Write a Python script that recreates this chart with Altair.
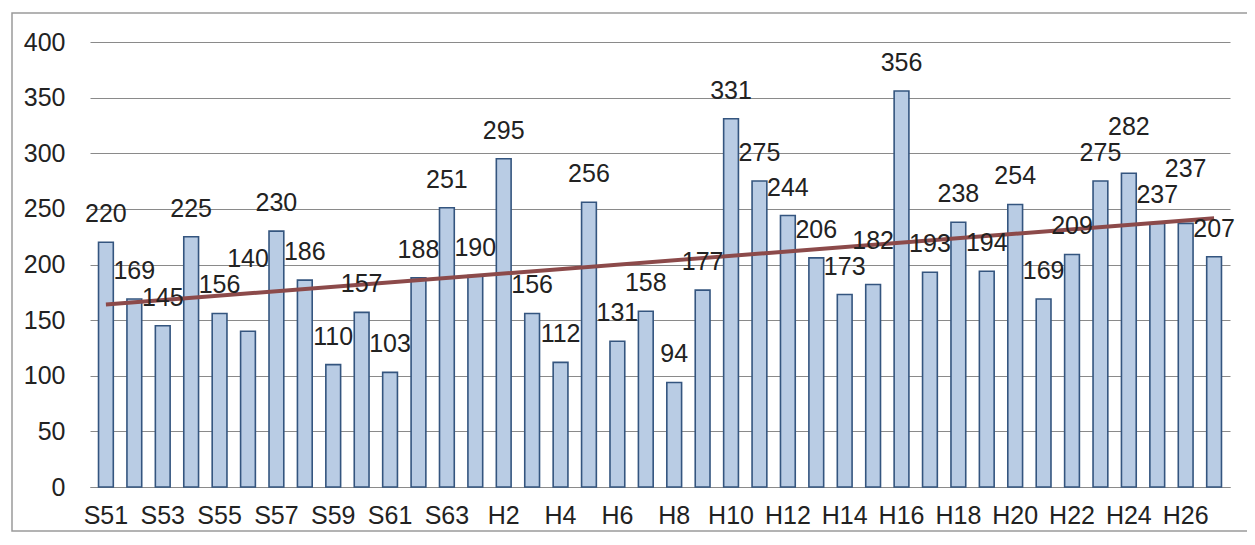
import altair as alt
import pandas as pd
import numpy as np

categories = (["S%d" % y for y in range(51, 64)] + ["H%d" % y for y in range(1, 28)])
values = [220, 169, 145, 225, 156, 140, 230, 186, 110, 157, 103, 188, 251,
          190, 295, 156, 112, 256, 131, 158, 94, 177, 331, 275, 244, 206,
          173, 182, 356, 193, 238, 194, 254, 169, 209, 275, 282, 237, 237, 207]
axis_labels = categories[::2]
y_ticks = [0, 50, 100, 150, 200, 250, 300, 350, 400]

FONT = "Liberation Sans"
FS = 25
W, H = 1140, 445
Y_MAX = 400
PX = H / Y_MAX  # pixels per unit

df = pd.DataFrame({"year": categories, "count": values, "idx": range(len(categories))})

# value labels above the bars; lift a label when it would collide with its left neighbour
label_y = []
for i, v in enumerate(values):
    ly = v + 28 / PX
    if i > 0 and abs(ly - label_y[-1]) < 26 / PX:
        ly = label_y[-1] + 26 / PX
    label_y.append(ly)
df["label_y"] = label_y

slope, intercept = np.polyfit(df["idx"], df["count"], 1)
n = len(categories)
trend = pd.DataFrame({"year": [categories[0], categories[-1]],
                      "trend": [intercept, intercept + slope * (n - 1)]})

x = alt.X("year:N", sort=categories,
          scale=alt.Scale(paddingInner=0.48, paddingOuter=0.3),
          axis=alt.Axis(values=axis_labels, title=None, labelAngle=0, ticks=False,
                        domain=True, domainColor="#8a8a8a", domainWidth=1.2,
                        labelFontSize=FS, labelFont=FONT, labelColor="#222222",
                        labelPadding=16, grid=False))
y_axis = alt.Axis(values=y_ticks, title=None, ticks=False, domain=False,
                  grid=True, gridColor="#8a8a8a", gridWidth=1.2,
                  labelFontSize=FS, labelFont=FONT, labelColor="#222222",
                  labelPadding=25)
y_scale = alt.Scale(domain=[0, Y_MAX])

bars = alt.Chart(df).mark_bar(fill="#b9cce4", stroke="#34557f", strokeWidth=1.6).encode(
    x=x,
    y=alt.Y("count:Q", scale=y_scale, axis=y_axis),
)

line = alt.Chart(trend).mark_line(color="#8c4a4a", strokeWidth=4).encode(
    x=alt.X("year:N", sort=categories),
    y=alt.Y("trend:Q", scale=y_scale),
)

labels = alt.Chart(df).mark_text(baseline="middle", fontSize=FS, font=FONT,
                                 color="#222222").encode(
    x=alt.X("year:N", sort=categories),
    y=alt.Y("label_y:Q", scale=y_scale),
    text=alt.Text("count:Q"),
)

frame = alt.Chart(pd.DataFrame({"a": [0]})).mark_rect(
    filled=False, stroke="#9a9a9a", strokeWidth=1.5, clip=False
).encode(
    x=alt.value(-78), x2=alt.value(W + 60),
    y=alt.value(-29), y2=alt.value(H + 44),
)

chart = alt.layer(frame, bars, line, labels).properties(
    width=W, height=H,
    autosize=alt.AutoSizeParams(type="none"),
    padding={"left": 82, "top": 34, "right": 17, "bottom": 46},
    background="white",
).configure_view(stroke="transparent")

chart.save("out.html", embed_options={"renderer": "svg", "actions": False})
